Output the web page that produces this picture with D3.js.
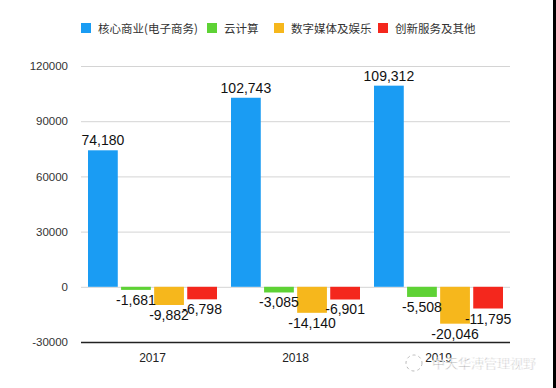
<!DOCTYPE html>
<html>
<head>
<meta charset="utf-8">
<script src="https://cdn.jsdelivr.net/npm/d3@7"></script>
<style>
  body { margin: 0; background: #fff; }
  svg { display: block; font-family: "Liberation Sans", Arial, sans-serif; }
</style>
</head>
<body>
<svg id="chart" width="556" height="388"></svg>
<script>
// data
var years = ["2017", "2018", "2019"];
var seriesNames = ["核心商业(电子商务)", "云计算", "数字媒体及娱乐", "创新服务及其他"];
var seriesColors = ["#1a9cf3", "#5ed235", "#f6b71c", "#f4271d"];
var coreCommerce = [74180, 102743, 109312];
var cloud = [-1681, -3085, -5508];
var media = [-9882, -14140, -20046];
var innovation = [-6798, -6901, -11795];
var yTicks = [-30000, 0, 30000, 60000, 90000, 120000];

var seriesValues = [coreCommerce, cloud, media, innovation];

var svg = d3.select("#chart");

var plotLeft = 81, plotRight = 510, plotTop = 66, plotBottom = 342;

var y = d3.scaleLinear()
  .domain([-30000, 120000])
  .range([plotBottom, plotTop]);

var x0 = d3.scaleBand()
  .domain(years)
  .range([plotLeft, plotRight]);

var x1 = d3.scaleBand()
  .domain(d3.range(seriesNames.length))
  .range([7, x0.bandwidth() - 7])
  .paddingInner(0.1);

// gridlines + y labels
var yAxis = d3.axisLeft(y)
  .tickValues(yTicks)
  .tickSize(-(plotRight - plotLeft))
  .tickPadding(13)
  .tickFormat(function(d){ return d; });

var gy = svg.append("g")
  .attr("transform", "translate(" + plotLeft + ",0)")
  .call(yAxis);
gy.select(".domain").remove();
gy.selectAll(".tick line")
  .attr("stroke", function(d){ return d == -30000 ? "#222" : "#d4d4d4"; })
  .attr("stroke-width", function(d){ return d == -30000 ? 1.5 : 1; });
gy.selectAll(".tick text")
  .attr("fill", "#333")
  .style("font-size", "11.5px")
  .style("font-family", "\"Liberation Sans\", Arial, sans-serif");

// x labels
var xAxis = d3.axisBottom(x0).tickSize(0).tickPadding(11);
var gx = svg.append("g")
  .attr("transform", "translate(0," + plotBottom + ")")
  .call(xAxis);
gx.select(".domain").remove();
gx.selectAll(".tick text")
  .attr("fill", "#222")
  .style("font-size", "12px")
  .style("font-family", "\"Liberation Sans\", Arial, sans-serif");

// bars
var cells = [];
years.forEach(function(yr, i){
  seriesValues.forEach(function(vals, s){
    cells.push({year: yr, s: s, v: vals[i]});
  });
});

svg.append("g").selectAll("rect")
  .data(cells)
  .enter()
  .append("rect")
  .attr("x", function(d){ return x0(d.year) + x1(d.s); })
  .attr("width", x1.bandwidth())
  .attr("y", function(d){ return y(Math.max(0, d.v)); })
  .attr("height", function(d){ return Math.abs(y(d.v) - y(0)); })
  .attr("fill", function(d){ return seriesColors[d.s]; });

var fmt = d3.format(",");
svg.append("g").selectAll("text")
  .data(cells)
  .enter()
  .append("text")
  .attr("x", function(d){ return x0(d.year) + x1(d.s) + x1.bandwidth() / 2; })
  .attr("y", function(d){ return d.v >= 0 ? y(d.v) - 5 : y(d.v) + 15; })
  .attr("text-anchor", "middle")
  .attr("fill", "#111")
  .style("font-size", "14px")
  .text(function(d){ return fmt(d.v).replace("−", "-"); });

// legend
var legendX = [81, 207, 274, 378];
var lg = svg.append("g").selectAll("g")
  .data(seriesNames)
  .enter()
  .append("g")
  .attr("transform", function(d, i){ return "translate(" + legendX[i] + ",23)"; });
lg.append("rect")
  .attr("width", 10)
  .attr("height", 10)
  .attr("fill", function(d, i){ return seriesColors[i]; });
lg.append("text")
  .attr("x", 17)
  .attr("y", 9.5)
  .attr("fill", "#333")
  .style("font-size", "11.5px")
  .style("font-family", "\"Noto Sans CJK SC\", \"Liberation Sans\", sans-serif")
  .text(function(d){ return d; });

// watermark
svg.append("circle")
  .attr("cx", 414).attr("cy", 363).attr("r", 8)
  .attr("fill", "none")
  .attr("stroke", "#bbb")
  .attr("stroke-dasharray", "3,3");
svg.append("text")
  .attr("x", 432)
  .attr("y", 368)
  .attr("fill", "#999")
  .attr("stroke", "#fff")
  .attr("stroke-width", 0.6)
  .style("font-size", "13px")
  .style("font-family", "\"Noto Sans CJK SC\", sans-serif")
  .text("中天华溥管理视野");

// right edge strip
svg.append("rect")
  .attr("x", 553).attr("y", 0)
  .attr("width", 3).attr("height", 388)
  .attr("fill", "#000");
</script>
</body>
</html>
